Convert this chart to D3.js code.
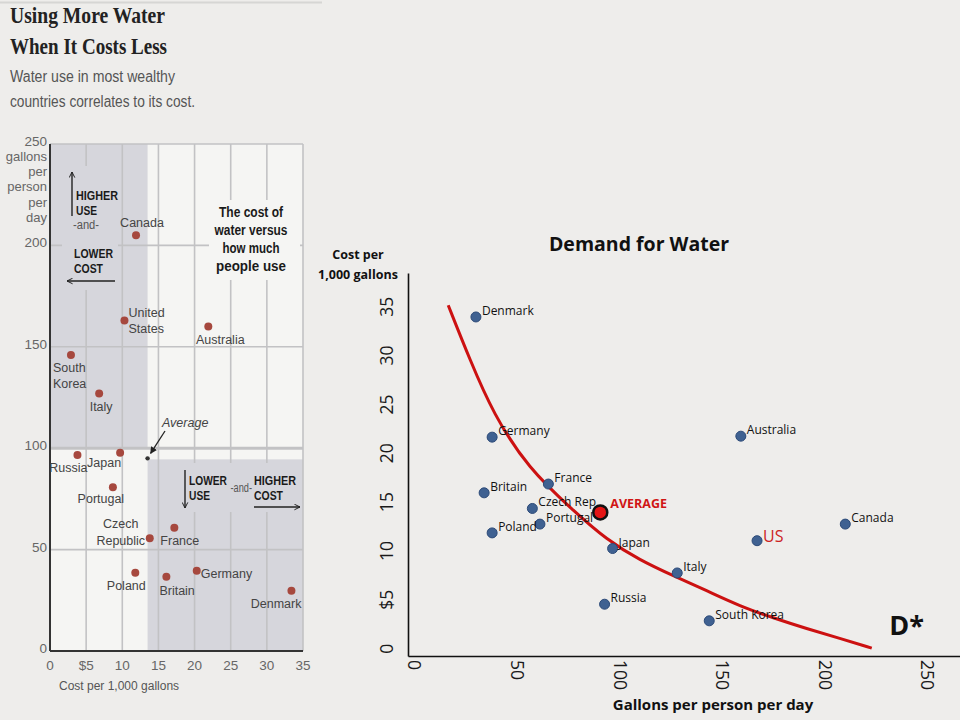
<!DOCTYPE html>
<html>
<head>
<meta charset="utf-8">
<script src="https://cdn.jsdelivr.net/npm/d3@7"></script>
<style>
  body { margin: 0; background: #eeedeb; }
  svg { display: block; }
  .nyt text { font-family: "Liberation Sans", Arial, sans-serif; }
  .demand text { font-family: "Open Sans", "DejaVu Sans", sans-serif; }
</style>
</head>
<body>
<div id="chart"></div>
<script>

// ---- left panel: cost vs. use (NYT graphic) ----
var nytCountries = ["Canada", "United States", "Australia", "South Korea", "Italy", "Russia", "Japan",
  "Portugal", "Czech Republic", "France", "Poland", "Britain", "Germany", "Denmark"];
var nytCost    = [11.9, 10.3, 21.9, 2.9, 6.8, 3.8, 9.7, 8.7, 13.8, 17.2, 11.8, 16.1, 20.3, 33.4];
var nytGallons = [205, 163, 160, 146, 127, 96.6, 97.8, 80.7, 55.6, 60.8, 38.6, 36.6, 39.6, 29.7];
var nytAverageCost    = 13.5;
var nytAverageGallons = 95;
var nytCostTicks   = [0, 5, 10, 15, 20, 25, 30, 35];
var nytCostLabels  = ["0", "$5", "10", "15", "20", "25", "30", "35"];
var nytGallonTicks = [0, 50, 100, 150, 200, 250];

// ---- right panel: demand for water ----
var demandCountries = ["Denmark", "Germany", "Britain", "France", "Czech Rep", "Portugal", "Poland",
  "Japan", "Russia", "Australia", "Canada", "US", "Italy", "South Korea"];
var demandGallons = [30.1, 38.0, 34.1, 65.4, 57.6, 61.3, 38.0, 96.7, 92.8, 159.2, 210.1, 167.1, 128.2, 143.8];
var demandCost    = [33.9, 21.6, 15.9, 16.8, 14.3, 12.7, 11.8, 10.2, 4.5, 21.7, 12.7, 11.0, 7.7, 2.8];
var averageGallons = 90.7;
var averageCost    = 13.9;
// demand curve D*
var curveGallons = [16.6, 27.2, 38.5, 55.6, 77.5, 93.8, 110.0, 126.3, 142.5, 158.8, 175.0, 191.3, 207.5, 223.0];
var curveCost    = [35.1, 29.5, 24.0, 18.4, 14.1, 11.1, 9.0, 7.4, 5.9, 4.3, 3.1, 2.0, 1.0, 0.0];
var gallonTicks    = [0, 50, 100, 150, 200, 250];
var costTicks      = [0, 5, 10, 15, 20, 25, 30, 35];
var costTickLabels = ["0", "$5", "10", "15", "20", "25", "30", "35"];

// label placement for the left panel: [anchor, dx, dy of first line, line height]
var nytLabelPlace = {
  "Canada":         ["middle", 6, -8, 0],
  "United States":  ["start", 4, -3, 16],
  "Australia":      ["middle", 12, 17, 0],
  "South Korea":    ["start", -18, 17, 16],
  "Italy":          ["middle", 2, 18, 0],
  "Russia":         ["middle", -9, 17, 0],
  "Japan":          ["end", 1, 14, 0],
  "Portugal":       ["middle", -12, 16, 0],
  "Czech Republic": ["middle", -29, -10, 17],
  "France":         ["start", -14, 17, 0],
  "Poland":         ["middle", -9, 17, 0],
  "Britain":        ["start", -7, 18, 0],
  "Germany":        ["start", 4, 7, 0],
  "Denmark":        ["end", 10, 17, 0]
};

var svg = d3.select("#chart").append("svg")
  .attr("width", 960)
  .attr("height", 720);

var defs = svg.append("defs");
defs.append("marker")
  .attr("id", "chev")
  .attr("viewBox", "0 0 10 10")
  .attr("refX", 9).attr("refY", 5)
  .attr("markerWidth", 7).attr("markerHeight", 7)
  .attr("markerUnits", "userSpaceOnUse")
  .attr("orient", "auto")
  .append("path")
  .attr("d", "M1,1 L9,5 L1,9")
  .attr("fill", "none")
  .attr("stroke", "#222")
  .attr("stroke-width", 1.4);
defs.append("marker")
  .attr("id", "tri")
  .attr("viewBox", "0 0 10 10")
  .attr("refX", 9).attr("refY", 5)
  .attr("markerWidth", 7).attr("markerHeight", 7)
  .attr("markerUnits", "userSpaceOnUse")
  .attr("orient", "auto")
  .append("path")
  .attr("d", "M0,0 L10,5 L0,10 z")
  .attr("fill", "#222");

/*
 * Left panel
 */
function drawNyt() {
  var g = svg.append("g").attr("class", "nyt");

  var shade = "#d6d6dc",
      paper = "#f5f5f3";

  // Scales
  var x = d3.scaleLinear().domain([0, 35]).range([50, 303]);
  var y = d3.scaleLinear().domain([0, 250]).range([651, 144]);

  // top rule
  g.append("line")
    .attr("x1", 0).attr("x2", 322).attr("y1", 2.5).attr("y2", 2.5)
    .attr("stroke", "#d6d6d4").attr("stroke-width", 2);

  // Title
  var titles = ["Using More Water", "When It Costs Less"];
  var titleLen = [155, 157];
  titles.forEach(function(t, i) {
    g.append("text")
      .attr("x", 10).attr("y", 23 + i * 31)
      .attr("textLength", titleLen[i])
      .attr("lengthAdjust", "spacingAndGlyphs")
      .style("font-family", "'Liberation Serif', 'DejaVu Serif', serif")
      .style("font-weight", "bold")
      .style("font-size", "23px")
      .attr("fill", "#222")
      .text(t);
  });
  var subs = ["Water use in most wealthy", "countries correlates to its cost."];
  var subLen = [165, 185];
  subs.forEach(function(t, i) {
    g.append("text")
      .attr("x", 10).attr("y", 82 + i * 24.5)
      .attr("textLength", subLen[i])
      .attr("lengthAdjust", "spacingAndGlyphs")
      .style("font-size", "16px")
      .attr("fill", "#555")
      .text(t);
  });

  // plot area
  g.append("rect")
    .attr("x", x(0)).attr("y", y(250))
    .attr("width", x(35) - x(0)).attr("height", y(0) - y(250))
    .attr("fill", paper);

  // shaded quadrants (lower cost + higher use, higher cost + lower use)
  g.append("rect")
    .attr("x", x(0)).attr("y", y(250))
    .attr("width", x(nytAverageCost) - x(0)).attr("height", y(100.5) - y(250))
    .attr("fill", shade);
  g.append("rect")
    .attr("x", x(nytAverageCost)).attr("y", y(94.5))
    .attr("width", x(35) - x(nytAverageCost)).attr("height", y(0) - y(94.5))
    .attr("fill", shade);

  // Grid
  g.selectAll(".vgrid").data(nytCostTicks.slice(1)).enter().append("line")
    .attr("class", "vgrid")
    .attr("x1", function(d) { return x(d); })
    .attr("x2", function(d) { return x(d); })
    .attr("y1", y(0)).attr("y2", y(250))
    .attr("stroke", "#c2c2c4").attr("stroke-width", 1.6);
  g.selectAll(".hgrid").data(nytGallonTicks.slice(1)).enter().append("line")
    .attr("class", "hgrid")
    .attr("x1", x(0)).attr("x2", x(35))
    .attr("y1", function(d) { return y(d); })
    .attr("y2", function(d) { return y(d); })
    .attr("stroke", "#c2c2c4")
    .attr("stroke-width", function(d) { return d == 100 ? 3 : 1.6; });

  // boxes behind the notes
  g.append("rect").attr("x", 62).attr("y", 166).attr("width", 56).attr("height", 124).attr("fill", shade);
  g.append("rect").attr("x", 209).attr("y", 200).attr("width", 91).attr("height", 80).attr("fill", paper);
  g.append("rect").attr("x", 180).attr("y", 463).attr("width", 121).attr("height", 49).attr("fill", shade);

  // Axes
  g.append("line")
    .attr("x1", x(0)).attr("x2", x(0)).attr("y1", y(250)).attr("y2", y(0))
    .attr("stroke", "#333").attr("stroke-width", 2);
  g.append("line")
    .attr("x1", x(0)).attr("x2", x(35)).attr("y1", y(0)).attr("y2", y(0))
    .attr("stroke", "#333").attr("stroke-width", 2);

  g.selectAll(".ytick").data(nytGallonTicks).enter().append("text")
    .attr("class", "ytick")
    .attr("x", 47)
    .attr("y", function(d) { return y(d) + 2; })
    .attr("text-anchor", "end")
    .style("font-size", "13.5px")
    .attr("fill", "#666")
    .text(function(d) { return d; });
  ["gallons", "per", "person", "per", "day"].forEach(function(t, i) {
    g.append("text")
      .attr("x", 47).attr("y", 160.5 + i * 15.4)
      .attr("text-anchor", "end")
      .style("font-size", "13px")
      .attr("fill", "#666")
      .text(t);
  });

  g.selectAll(".xtick").data(nytCostTicks).enter().append("text")
    .attr("class", "xtick")
    .attr("x", function(d) { return x(d); })
    .attr("y", 670)
    .attr("text-anchor", "middle")
    .style("font-size", "13.5px")
    .attr("fill", "#666")
    .text(function(d, i) { return nytCostLabels[i]; });
  g.append("text")
    .attr("x", 59).attr("y", 690)
    .style("font-size", "12px")
    .attr("fill", "#555")
    .text("Cost per 1,000 gallons");

  // Notes (condensed type, squeezed to the widths in the original)
  var note = function(tx, ty, t, len, size, bold, anchor) {
    g.append("text")
      .attr("x", tx).attr("y", ty)
      .attr("text-anchor", anchor || "start")
      .attr("textLength", len)
      .attr("lengthAdjust", "spacingAndGlyphs")
      .style("font-size", size + "px")
      .style("font-weight", bold ? "bold" : "normal")
      .attr("fill", bold ? "#1a1a1a" : "#555")
      .text(t);
  };
  var arrow = function(x1, y1, x2, y2) {
    g.append("line")
      .attr("x1", x1).attr("y1", y1).attr("x2", x2).attr("y2", y2)
      .attr("stroke", "#222").attr("stroke-width", 1.4)
      .attr("marker-end", "url(#chev)");
  };

  arrow(72, 216, 72, 172);
  note(76, 200, "HIGHER", 42, 12.5, true);
  note(76, 215, "USE", 21, 12.5, true);
  note(73, 229, "-and-", 26, 12, false);
  note(74, 257.5, "LOWER", 39, 12.5, true);
  note(74, 273, "COST", 29, 12.5, true);
  arrow(115, 281, 67, 281);

  var boxLines = ["The cost of", "water versus", "how much", "people use"];
  var boxLen = [64, 73, 57, 70];
  boxLines.forEach(function(t, i) {
    note(251, 216.5 + i * 18.2, t, boxLen[i], 14, true, "middle");
  });

  arrow(185, 470, 185, 508);
  note(189, 485, "LOWER", 38, 12.5, true);
  note(189, 500, "USE", 21, 12.5, true);
  note(230.5, 492, "-and-", 21.5, 12, false);
  note(254, 485, "HIGHER", 42, 12.5, true);
  note(254, 500, "COST", 29, 12.5, true);
  arrow(254, 507, 300, 507);

  // Points
  g.selectAll(".dot").data(nytCountries).enter().append("circle")
    .attr("class", "dot")
    .attr("cx", function(d, i) { return x(nytCost[i]); })
    .attr("cy", function(d, i) { return y(nytGallons[i]); })
    .attr("r", 4)
    .attr("fill", "#a6483e");

  nytCountries.forEach(function(name, i) {
    var p = nytLabelPlace[name];
    var lines = p[3] ? name.split(" ") : [name];
    var t = g.append("text")
      .attr("text-anchor", p[0])
      .style("font-size", "12.5px")
      .attr("fill", "#444");
    lines.forEach(function(l, j) {
      t.append("tspan")
        .attr("x", x(nytCost[i]) + p[1])
        .attr("y", y(nytGallons[i]) + p[2] + j * p[3])
        .text(l);
    });
  });

  // Average
  g.append("circle")
    .attr("cx", x(nytAverageCost)).attr("cy", y(nytAverageGallons))
    .attr("r", 2.2).attr("fill", "#333");
  g.append("line")
    .attr("x1", 165).attr("y1", 431)
    .attr("x2", x(nytAverageCost) + 3).attr("y2", y(nytAverageGallons) - 5)
    .attr("stroke", "#222").attr("stroke-width", 1.3)
    .attr("marker-end", "url(#tri)");
  g.append("text")
    .attr("x", 162).attr("y", 427)
    .style("font-size", "12.5px")
    .style("font-style", "italic")
    .attr("fill", "#444")
    .text("Average");
}

/*
 * Right panel
 */
function drawDemand() {
  var g = svg.append("g").attr("class", "demand");

  // Scales
  var x = d3.scaleLinear().domain([-3, 266]).range([408, 960]);
  var y = d3.scaleLinear().domain([-0.8, 38.4]).range([656, 273]);

  // Axes
  var xAxis = d3.axisBottom(x).tickValues(gallonTicks).tickSize(0).tickSizeOuter(0);
  var yAxis = d3.axisLeft(y).tickValues(costTicks).tickSize(0).tickSizeOuter(0)
    .tickFormat(function(d, i) { return costTickLabels[i]; });

  var gx = g.append("g")
    .attr("class", "axis x-axis")
    .attr("transform", "translate(0," + y(-0.8) + ")")
    .call(xAxis);
  gx.select(".domain").attr("stroke", "#111").attr("stroke-width", 1.6);
  gx.selectAll("text")
    .attr("x", 0).attr("y", 0).attr("dy", "0.36em")
    .attr("transform", "translate(0,4) rotate(90)")
    .attr("text-anchor", "start")
    .attr("fill", "#1a1a1a")
    .style("font-size", "17.5px");

  var gy = g.append("g")
    .attr("class", "axis y-axis")
    .attr("transform", "translate(" + x(-3) + ",0)")
    .call(yAxis);
  gy.select(".domain").attr("stroke", "#111").attr("stroke-width", 1.6);
  gy.selectAll("text")
    .attr("x", 0).attr("y", 0).attr("dy", 0)
    .attr("transform", "translate(-15,0) rotate(-90)")
    .attr("text-anchor", "middle")
    .attr("fill", "#1a1a1a")
    .style("font-size", "17.5px");

  // Title and axis labels
  g.append("text")
    .attr("x", 639).attr("y", 251)
    .attr("text-anchor", "middle")
    .style("font-size", "19.5px")
    .style("font-weight", "bold")
    .attr("fill", "#111")
    .text("Demand for Water");

  g.append("text")
    .attr("x", 713).attr("y", 710)
    .attr("text-anchor", "middle")
    .style("font-size", "15px")
    .style("font-weight", "bold")
    .attr("fill", "#111")
    .text("Gallons per person per day");

  ["Cost per", "1,000 gallons"].forEach(function(t, i) {
    g.append("text")
      .attr("x", 358).attr("y", 259 + i * 20)
      .attr("text-anchor", "middle")
      .style("font-size", "12.5px")
      .style("font-weight", "bold")
      .attr("fill", "#111")
      .text(t);
  });

  // Demand curve
  var line = d3.line()
    .x(function(d, i) { return x(d); })
    .y(function(d, i) { return y(curveCost[i]); })
    .curve(d3.curveBasis);

  g.append("path")
    .attr("class", "line")
    .attr("d", line(curveGallons))
    .attr("fill", "none")
    .attr("stroke", "#cc1111")
    .attr("stroke-width", 3);

  g.append("text")
    .attr("x", x(231.5)).attr("y", y(1.4))
    .style("font-size", "27px")
    .style("font-weight", "bold")
    .attr("fill", "#111")
    .text("D*");

  // Countries
  g.selectAll(".dot").data(demandCountries).enter().append("circle")
    .attr("class", "dot")
    .attr("cx", function(d, i) { return x(demandGallons[i]); })
    .attr("cy", function(d, i) { return y(demandCost[i]); })
    .attr("r", 5)
    .attr("fill", "#3f6191")
    .attr("stroke", "#2c4a78")
    .attr("stroke-width", 1);

  g.selectAll(".label").data(demandCountries).enter().append("text")
    .attr("class", "label")
    .attr("x", function(d, i) { return x(demandGallons[i]) + 6; })
    .attr("y", function(d, i) { return y(demandCost[i]) + (d == "US" ? 1.5 : -2); })
    .style("font-size", function(d) { return d == "US" ? "16px" : "12px"; })
    .attr("fill", function(d) { return d == "US" ? "#cc2222" : "#111"; })
    .text(function(d) { return d; });

  // Average
  g.append("circle")
    .attr("cx", x(averageGallons)).attr("cy", y(averageCost))
    .attr("r", 7)
    .attr("fill", "#e51515")
    .attr("stroke", "#111")
    .attr("stroke-width", 2.5);
  g.append("text")
    .attr("x", x(averageGallons) + 10).attr("y", y(averageCost) - 4)
    .style("font-size", "12.5px")
    .style("font-weight", "bold")
    .attr("fill", "#d01515")
    .text("AVERAGE");
}

drawNyt();
drawDemand();

</script>
</body>
</html>
